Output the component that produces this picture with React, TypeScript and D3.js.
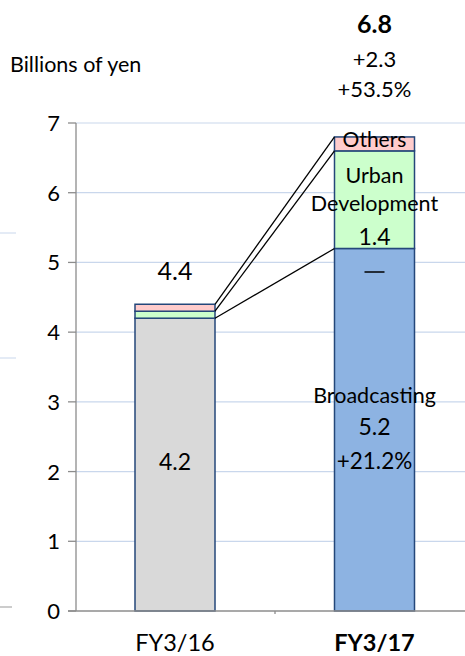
import React from 'react';
import * as d3 from 'd3';

// values in billions of yen
const years = ['FY3/16', 'FY3/17'];
const broadcasting = [4.2, 5.2];
const urbanDevelopment = [0.1, 1.4];
const others = [0.1, 0.2];
const totals = ['4.4', '6.8'];
const yTicks = [0, 1, 2, 3, 4, 5, 6, 7];

const W = 465;
const H = 656;
const FONT = 'Lato, "Open Sans", sans-serif';

const App = () => {
  const x = d3.scalePoint().domain(years).range([175, 374.5]);
  const y = d3.scaleLinear().domain([0, 7]).range([611, 123]);
  const bw = 80;

  const stack = years.map((yr, i) => {
    const b = broadcasting[i];
    const u = b + urbanDevelopment[i];
    const o = u + others[i];
    return { yr, b, u, o };
  });
  const left = stack[0];
  const right = stack[1];
  const cx0 = x(left.yr)!;
  const cx1 = x(right.yr)!;
  const lx = cx0 + bw / 2;
  const rx = cx1 - bw / 2;
  const baseColors = ['#d9d9d9', '#8db3e2'];

  return (
    <svg width={W} height={H} style={{ position: 'absolute', left: 0, top: 0, fontFamily: FONT }}>
      <rect width={W} height={H} fill="#fff" />
      {/* stray fragments at left edge */}
      <line x1={0} x2={16} y1={233} y2={233} stroke="#c9d7ec" />
      <line x1={0} x2={16} y1={358} y2={358} stroke="#c9d7ec" />
      <line x1={0} x2={12} y1={607} y2={607} stroke="#999" />

      {yTicks.slice(1).map(t => (
        <line key={t} x1={76} x2={W} y1={y(t)} y2={y(t)} stroke="#c9d7ec" strokeWidth={1.2} />
      ))}

      {stack.map((s, i) => {
        const x0 = x(s.yr)! - bw / 2;
        return (
          <g key={s.yr} stroke="#24477a" strokeWidth={1.5}>
            <rect x={x0} y={y(s.b)} width={bw} height={y(0) - y(s.b)} fill={baseColors[i]} />
            <rect x={x0} y={y(s.u)} width={bw} height={y(s.b) - y(s.u)} fill="#ccffcc" />
            <rect x={x0} y={y(s.o)} width={bw} height={y(s.u) - y(s.o)} fill="#ffcccc" />
          </g>
        );
      })}

      {/* axes */}
      <line x1={76} x2={76} y1={y(7)} y2={y(0)} stroke="#8c8c8c" strokeWidth={1.3} />
      <line x1={68} x2={W} y1={y(0)} y2={y(0)} stroke="#8c8c8c" strokeWidth={1.3} />
      {yTicks.map(t => (
        <line key={t} x1={68} x2={76} y1={y(t)} y2={y(t)} stroke="#8c8c8c" strokeWidth={1.3} />
      ))}
      <line x1={275} x2={275} y1={y(0)} y2={y(0) + 3} stroke="#8c8c8c" strokeWidth={1.3} />
      {yTicks.map(t => (
        <text key={t} x={60} y={y(t) + 8} textAnchor="end" fontSize={22}>{t}</text>
      ))}

      {/* connectors */}
      <g stroke="#000" strokeWidth={1.3}>
        <line x1={lx} y1={y(left.o)} x2={rx} y2={y(right.o)} />
        <line x1={lx} y1={y(left.u)} x2={rx} y2={y(right.u)} />
        <line x1={lx} y1={y(left.b)} x2={rx} y2={y(right.b)} />
      </g>

      {/* labels */}
      <text x={10} y={72} fontSize={21.5}>Billions of yen</text>
      <text x={cx1} y={33} textAnchor="middle" fontSize={25} fontWeight="bold">{totals[1]}</text>
      <text x={cx1} y={67} textAnchor="middle" fontSize={22}>+2.3</text>
      <text x={cx1} y={97} textAnchor="middle" fontSize={22}>+53.5%</text>

      <text x={cx0} y={280} textAnchor="middle" fontSize={25}>{totals[0]}</text>
      <text x={cx0} y={470} textAnchor="middle" fontSize={23}>{broadcasting[0].toFixed(1)}</text>

      <text x={cx1} y={147} textAnchor="middle" fontSize={21}>Others</text>
      <text x={cx1} y={183} textAnchor="middle" fontSize={21.5}>Urban</text>
      <text x={cx1} y={211} textAnchor="middle" fontSize={21.5}>Development</text>
      <text x={cx1} y={245} textAnchor="middle" fontSize={23}>{urbanDevelopment[1].toFixed(1)}</text>
      <line x1={cx1 - 10} x2={cx1 + 10} y1={272} y2={272} stroke="#000" strokeWidth={1.5} />
      <text x={cx1} y={403} textAnchor="middle" fontSize={21.5}>Broadcasting</text>
      <text x={cx1} y={435} textAnchor="middle" fontSize={23}>{broadcasting[1].toFixed(1)}</text>
      <text x={cx1} y={469} textAnchor="middle" fontSize={22.5}>+21.2%</text>

      <text x={cx0} y={651} textAnchor="middle" fontSize={23.5}>{years[0]}</text>
      <text x={cx1} y={651} textAnchor="middle" fontSize={23.5} fontWeight="bold">{years[1]}</text>
    </svg>
  );
};

export default App;
